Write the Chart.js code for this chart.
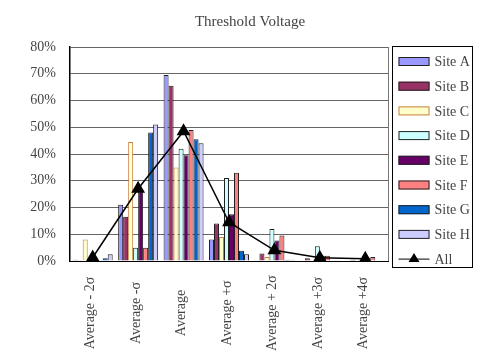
<!DOCTYPE html>
<html>
<head>
  <meta charset="UTF-8">
  <title>Threshold Voltage</title>
  <style>
    body { margin: 0; background: #fff; }
    #wrap { width: 499px; height: 357px; }
  </style>
  <script src="https://cdn.jsdelivr.net/npm/chart.js"></script>
</head>
<body>
<div id="wrap"><canvas id="chart"></canvas></div>
<script>
const chartTitle = 'Threshold Voltage';
const categories = ["Average - 2σ", "Average -σ", "Average", "Average +σ", "Average + 2σ", "Average +3σ", "Average +4σ"];

// percent of dies per bin, per site
const siteA = [0.5, 21, 69.5, 8, 0.3, 0.2, 0];
const siteB = [0.3, 16.5, 65.5, 14, 2.8, 1, 0.5];
const siteC = [8, 44.5, 35, 9, 1.5, 0.5, 0.3];
const siteD = [0.5, 5, 42, 31, 12, 5.5, 0.5];
const siteE = [0.5, 26, 39.5, 17.5, 7.7, 2, 1];
const siteF = [0.3, 5, 49, 33, 9.5, 2, 1.5];
const siteG = [1, 48, 45.5, 3.8, 0.5, 0.3, 0];
const siteH = [2.5, 51, 44, 2.5, 0.5, 0.3, 0];
const allSites = [1.3, 27, 48.5, 14.5, 4, 1.2, 0.8];

const yMax = 80;
const yStep = 10;

const FONT = "'Liberation Serif', 'Times New Roman', serif";

function bars(label, data, fill, edge) {
  return {
    label: label,
    data: data,
    backgroundColor: fill,
    borderColor: edge || '#222',
    borderWidth: 1,
    order: 1
  };
}

// legend box on the right, drawn like the Excel one
const legendBox = {
  id: 'legendBox',
  afterDraw(chart) {
    const ctx = chart.ctx;
    const a = chart.chartArea;
    const x0 = Math.round(a.right) + 4.5, y0 = Math.round(a.top) - 0.5;
    ctx.save();
    ctx.strokeStyle = '#000';
    ctx.lineWidth = 1;
    ctx.strokeRect(x0, y0, 80, 221);
    ctx.font = '14px ' + FONT;
    ctx.textBaseline = 'middle';
    chart.data.datasets.forEach((ds, i) => {
      const y = y0 + 15 + i * 24.7;
      const sx = x0 + 6;
      if (ds.type === 'line') {
        ctx.strokeStyle = '#000';
        ctx.lineWidth = 1;
        ctx.beginPath();
        ctx.moveTo(sx, y);
        ctx.lineTo(sx + 31, y);
        ctx.stroke();
        ctx.fillStyle = '#000';
        ctx.beginPath();
        ctx.moveTo(sx + 15.5, y - 6);
        ctx.lineTo(sx + 21, y + 3);
        ctx.lineTo(sx + 10, y + 3);
        ctx.closePath();
        ctx.fill();
      } else {
        ctx.fillStyle = ds.backgroundColor;
        ctx.fillRect(sx, y - 4.5, 31, 9);
        ctx.strokeStyle = ds.borderColor;
        ctx.strokeRect(sx + 0.5, y - 4, 30, 8);
      }
      ctx.fillStyle = '#444';
      ctx.fillText(ds.label, sx + 36, y + 1);
    });
    ctx.restore();
  }
};

// title and rotated category labels (Excel centres them)
const texts = {
  id: 'texts',
  afterDraw(chart) {
    const ctx = chart.ctx;
    const xs = chart.scales.x;
    ctx.save();
    ctx.fillStyle = '#444';
    ctx.textAlign = 'center';
    ctx.textBaseline = 'middle';
    ctx.font = '15px ' + FONT;
    ctx.fillText(chartTitle, 250, 22);
    ctx.font = '14px ' + FONT;
    categories.forEach((c, i) => {
      ctx.save();
      ctx.translate(xs.getPixelForValue(i) - 2, 313);
      ctx.rotate(-Math.PI / 2);
      ctx.fillText(c, 0, 0);
      ctx.restore();
    });
    ctx.restore();
  }
};

// right edge of the plot frame
const plotFrame = {
  id: 'plotFrame',
  beforeDatasetsDraw(chart) {
    const a = chart.chartArea;
    const ctx = chart.ctx;
    ctx.save();
    ctx.strokeStyle = '#777';
    ctx.lineWidth = 1;
    ctx.beginPath();
    ctx.moveTo(Math.round(a.right) + 0.5, a.top);
    ctx.lineTo(Math.round(a.right) + 0.5, a.bottom);
    ctx.stroke();
    ctx.restore();
  }
};

new Chart(document.getElementById('chart'), {
  type: 'bar',
  data: {
    labels: categories,
    datasets: [
      bars('Site A', siteA, '#9999FF'),
      bars('Site B', siteB, '#993366'),
      bars('Site C', siteC, '#FFFFCC', '#C88040'),
      bars('Site D', siteD, '#CCFFFF'),
      bars('Site E', siteE, '#660066'),
      bars('Site F', siteF, '#FF8080'),
      bars('Site G', siteG, '#0066CC'),
      bars('Site H', siteH, '#CCCCFF'),
      {
        type: 'line',
        label: 'All',
        data: allSites,
        borderColor: '#000',
        borderWidth: 1.5,
        pointStyle: 'triangle',
        pointRadius: 6.5,
        pointBackgroundColor: '#000',
        pointBorderColor: '#000',
        fill: false,
        order: 0
      }
    ]
  },
  options: {
    responsive: true,
    maintainAspectRatio: false,
    animation: false,
    layout: { padding: { left: 0, right: 111, top: 47, bottom: 0 } },
    datasets: {
      bar: { categoryPercentage: 0.88, barPercentage: 1 }
    },
    plugins: {
      legend: { display: false },
      tooltip: { enabled: false },
      title: { display: false }
    },
    scales: {
      x: {
        grid: { display: false, drawTicks: false },
        border: { display: true, color: '#000', width: 1 },
        ticks: { display: false },
        afterFit(scale) { scale.height = 96; }
      },
      y: {
        min: 0,
        max: yMax,
        grid: { color: '#666', drawTicks: false },
        border: { display: true, color: '#000', width: 1.5 },
        ticks: {
          stepSize: yStep,
          padding: 14,
          color: '#444',
          font: { family: FONT, size: 14 },
          callback: v => v + '%'
        },
        afterFit(scale) { scale.width = 70; }
      }
    }
  },
  plugins: [legendBox, texts, plotFrame]
});
</script>
</body>
</html>
